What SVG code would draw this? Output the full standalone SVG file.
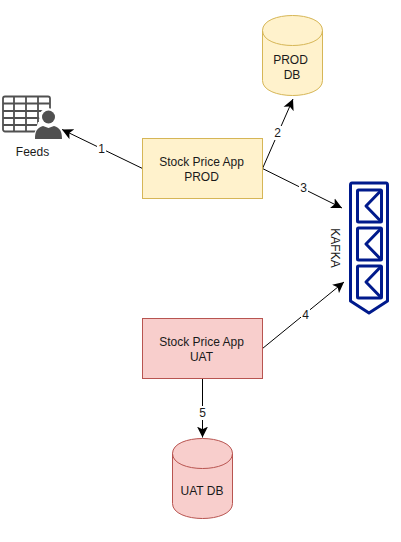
<svg xmlns="http://www.w3.org/2000/svg" width="401" height="542" viewBox="0 0 401 542">
<style>
text{font-family:"Liberation Sans",Arial,sans-serif;font-size:12px;fill:#1a1a1a;text-anchor:middle}
.y{fill:#fff2cc;stroke:#d6b656}
.r{fill:#f8cecc;stroke:#b85450}
.c{stroke:#000;stroke-width:1;fill:none;marker-end:url(#a)}
.l{fill:#fff;stroke:none}
.k{fill:none;stroke:#001a8c;stroke-width:3;stroke-linejoin:round}
.g{fill:none;stroke:#505050;stroke-width:1.8}
</style>
<defs>
<marker id="a" markerUnits="userSpaceOnUse" markerWidth="12" markerHeight="12" refX="10" refY="5" orient="auto" viewBox="0 0 11 10">
<path d="M0 0L10 5L0 10L2.500 5Z" fill="#000"/>
</marker>
</defs>
<rect width="401" height="542" fill="#fff"/>
<g id="connectors">
<path class="c" d="M142.500 168.500L62 129.500"/>
<path class="c" d="M262.500 168.500L293 99"/>
<path class="c" d="M262.500 168.500L342 208"/>
<path class="c" d="M262.500 348.500L344 282"/>
<path class="c" d="M202.500 378.500L202.500 437.500"/>
<rect class="l" x="97" y="142" width="9" height="14"/><text x="101.500" y="153">1</text>
<rect class="l" x="273" y="126" width="9" height="14"/><text x="277.500" y="137">2</text>
<rect class="l" x="299" y="181" width="9" height="14"/><text x="303.500" y="192">3</text>
<rect class="l" x="301" y="308" width="9" height="14"/><text x="305.500" y="319">4</text>
<rect class="l" x="198" y="406" width="9" height="14"/><text x="202.500" y="417">5</text>
</g>
<g id="feeds">
<rect class="g" x="3" y="96.500" width="47" height="35" rx="2"/>
<path class="g" d="M3 103.500H50M3 111H50M3 118H50M3 125H50M14 96.500V131.500M26 96.500V131.500M38 96.500V131.500"/>
<circle cx="48" cy="117" r="9" fill="#fff"/>
<path d="M32 141L38 122H60L65 141Z" fill="#fff"/>
<circle cx="48.500" cy="117" r="6.500" fill="#505050"/>
<path d="M35 139C35 131 37 128 43 126L48.500 128L54 126C60 128 62 131 62 139Z" fill="#505050"/>
<text x="32.500" y="156">Feeds</text>
</g>
<g id="prod-db">
<path class="y" d="M262.500 30.500C262.500 10.500 322.500 10.500 322.500 30.500V80.500C322.500 100.500 262.500 100.500 262.500 80.500Z"/>
<path class="y" style="fill:none" d="M262.500 30.500C262.500 50.500 322.500 50.500 322.500 30.500"/>
<text x="290.500" y="64">PROD</text>
<text x="292" y="79">DB</text>
</g>
<g id="prod-app">
<rect class="y" x="142.500" y="138.500" width="120" height="60"/>
<text x="201.500" y="166">Stock Price App</text>
<text x="201.500" y="181">PROD</text>
</g>
<g id="uat-app">
<rect class="r" x="142.500" y="318.500" width="120" height="60"/>
<text x="201.500" y="346">Stock Price App</text>
<text x="201.500" y="361">UAT</text>
</g>
<g id="uat-db">
<path class="r" d="M172.500 453.500C172.500 433.500 232.500 433.500 232.500 453.500V503.500C232.500 523.500 172.500 523.500 172.500 503.500Z"/>
<path class="r" style="fill:none" d="M172.500 453.500C172.500 473.500 232.500 473.500 232.500 453.500"/>
<text x="202" y="495">UAT DB</text>
</g>
<g id="kafka">
<path class="k" d="M352 183H386Q387.500 183 387.500 185V301L369 313L350.500 301V185Q350.500 183 352 183Z"/>
<rect class="k" x="357.500" y="190" width="24" height="32" rx="1"/>
<path class="k" d="M381.500 190L366 206L381.500 222"/>
<rect class="k" x="357.500" y="228" width="24" height="32" rx="1"/>
<path class="k" d="M381.500 228L366 244L381.500 260"/>
<rect class="k" x="357.500" y="266" width="24" height="32" rx="1"/>
<path class="k" d="M381.500 266L366 282L381.500 298"/>
<text transform="translate(331 248) rotate(90)">KAFKA</text>
</g>
</svg>
